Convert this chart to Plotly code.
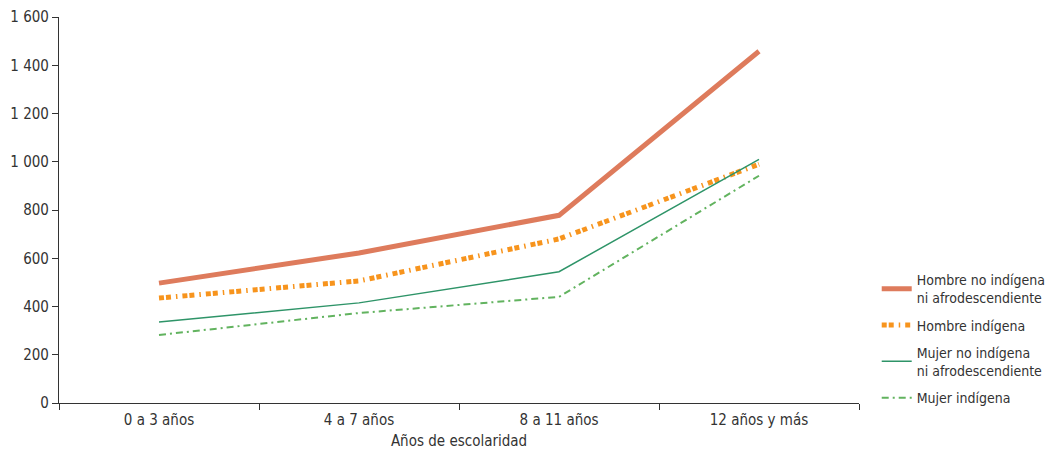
import plotly.graph_objects as go

categories = ["0 a 3 años", "4 a 7 años", "8 a 11 años", "12 años y más"]
hombre_no_indigena = [497, 622, 778, 1458]
hombre_indigena = [435, 506, 680, 990]
mujer_no_indigena = [336, 415, 544, 1010]
mujer_indigena = [282, 373, 440, 942]

series_names = [
    "Hombre no indígena<br>ni afrodescendiente",
    "Hombre indígena",
    "Mujer no indígena<br>ni afrodescendiente",
    "Mujer indígena",
]

FONT = "DejaVu Sans Condensed, Roboto, sans-serif"
TXT = "#333333"

fig = go.Figure()
fig.add_trace(go.Scatter(x=categories, y=hombre_no_indigena, mode="lines", name=series_names[0],
                         legendgroup="g1", line=dict(color="#DE7B5C", width=5)))
fig.add_trace(go.Scatter(x=categories, y=hombre_indigena, mode="lines", name=series_names[1],
                         legendgroup="g2",
                         line=dict(color="#F7941D", width=5, dash="5px,2px,5px,5px,1.5px,5px")))
fig.add_trace(go.Scatter(x=categories, y=mujer_no_indigena, mode="lines", name=series_names[2],
                         legendgroup="g3", line=dict(color="#2E9468", width=1.5)))
fig.add_trace(go.Scatter(x=categories, y=mujer_indigena, mode="lines", name=series_names[3],
                         legendgroup="g4",
                         line=dict(color="#62B35F", width=2, dash="7px,4px,2px,4px")))

fig.update_layout(
    width=1062, height=442,
    margin=dict(l=51, r=211, t=9, b=47),
    paper_bgcolor="white", plot_bgcolor="white",
    font=dict(family=FONT, size=15, color=TXT),
    separators=", ",
    legend=dict(xref="container", yref="paper", x=0.818, y=0.36, xanchor="left", yanchor="top",
                font=dict(family=FONT, size=14, color=TXT),
                itemwidth=30, tracegroupgap=6, bgcolor="rgba(0,0,0,0)"),
    showlegend=True,
)
fig.update_xaxes(
    type="category", tickson="boundaries", range=[-0.5, 3.5], automargin=False,
    showline=True, linecolor=TXT, linewidth=1.2,
    ticks="outside", ticklen=6, tickcolor=TXT, tickwidth=1.2,
    showgrid=False, zeroline=False, ticklabelstandoff=3,
    title=dict(text="Años de escolaridad", font=dict(family=FONT, size=15, color=TXT), standoff=12),
    tickfont=dict(family=FONT, size=15, color=TXT),
)
fig.update_yaxes(
    range=[0, 1600], dtick=200, tick0=0, automargin=False,
    showline=True, linecolor=TXT, linewidth=1.2,
    ticks="outside", ticklen=6, tickcolor=TXT, tickwidth=1.2,
    showgrid=False, zeroline=False, separatethousands=True,
    tickfont=dict(family=FONT, size=15, color=TXT),
)

fig.write_html("out.html")
